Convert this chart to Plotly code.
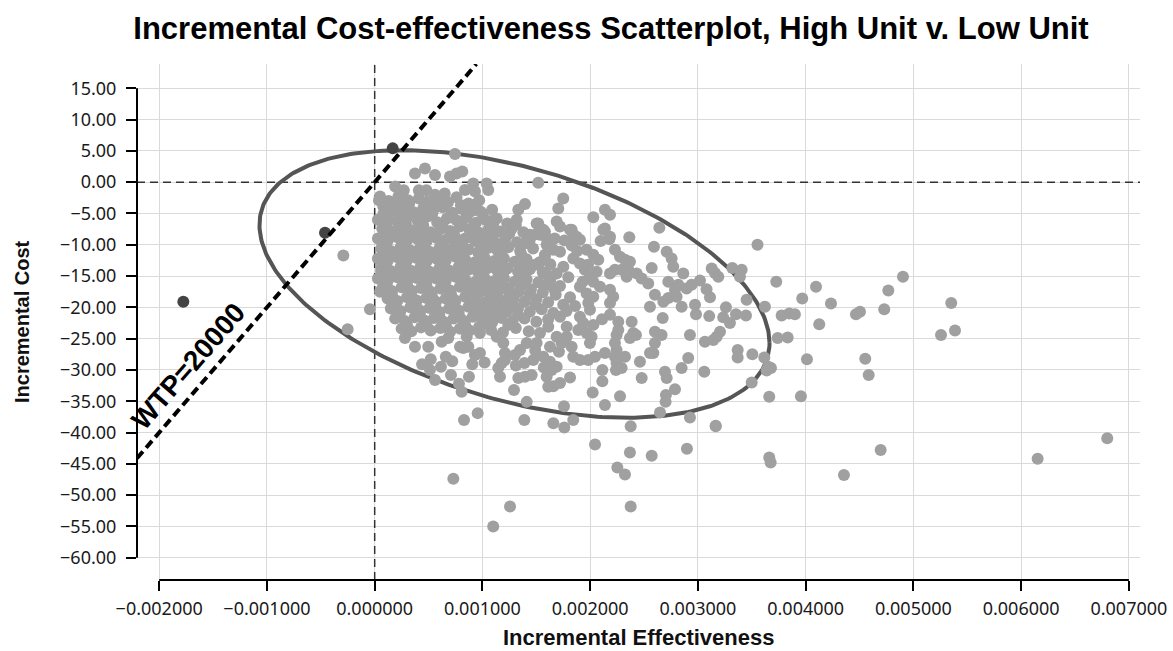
import numpy as np
import plotly.graph_objects as go

# ---------------- text ----------------
chart_title = "Incremental Cost-effectiveness Scatterplot, High Unit v. Low Unit"
x_title = "Incremental Effectiveness"
y_title = "Incremental Cost"
wtp_value = 20000
wtp_label = "WTP=20000"

# ---------------- axes ----------------
x_range = [-0.002206, 0.007103]
y_range = [-63.56, 18.88]
x_ticks = [-0.002, -0.001, 0.0, 0.001, 0.002, 0.003, 0.004, 0.005, 0.006, 0.007]
x_tick_labels = ["\u22120.002000", "\u22120.001000", "0.000000", "0.001000", "0.002000",
                 "0.003000", "0.004000", "0.005000", "0.006000", "0.007000"]
y_ticks = [15, 10, 5, 0, -5, -10, -15, -20, -25, -30, -35, -40, -45, -50, -55, -60]
y_tick_labels = ["15.00", "10.00", "5.00", "0.00", "\u22125.00", "\u221210.00", "\u221215.00",
                 "\u221220.00", "\u221225.00", "\u221230.00", "\u221235.00", "\u221240.00",
                 "\u221245.00", "\u221250.00", "\u221255.00", "\u221260.00"]

# ---------------- data: simulated (effect, cost) pairs ----------------
# dense core of the cloud, read row by row
core_points = [
    (0.00019, -0.7), (0.00027, -1.3), (0.00041, -1.3), (0.00048, -1.3), (0.00065, -1.8),
    (0.00005, -2.3), (0.00022, -2.3), (0.00056, -2.0),
    (0.00004, -2.9), (0.00013, -3.0), (0.00031, -2.9), (0.00041, -2.6), (0.00049, -3.1),
    (0.00057, -2.7), (0.00068, -3.2), (0.00076, -2.4), (0.00087, -3.4), (0.00097, -2.9),
    (0.00008, -3.9), (0.00017, -4.6), (0.00027, -4.1), (0.00036, -4.8), (0.00045, -4.2),
    (0.00054, -4.7), (0.00063, -4.0), (0.00072, -4.9), (0.00081, -4.3), (0.00090, -4.6),
    (0.00098, -4.7), (0.00109, -4.4),
    (0.00003, -6.0), (0.00012, -5.6), (0.00021, -6.3), (0.00030, -5.7), (0.00040, -6.2),
    (0.00049, -5.5), (0.00058, -6.4), (0.00067, -5.8), (0.00076, -6.1), (0.00085, -5.6),
    (0.00094, -6.5), (0.00103, -6.0), (0.00112, -5.8), (0.00123, -6.6),
    (0.00007, -7.4), (0.00016, -7.9), (0.00025, -7.2), (0.00034, -7.7), (0.00043, -7.3),
    (0.00052, -8.0), (0.00061, -7.5), (0.00070, -7.8), (0.00079, -7.1), (0.00088, -7.6),
    (0.00097, -8.1), (0.00106, -7.4), (0.00116, -7.9), (0.00127, -7.5), (0.00138, -8.0),
    (0.00003, -9.0), (0.00012, -9.4), (0.00021, -8.8), (0.00030, -9.3), (0.00039, -9.0),
    (0.00048, -9.5), (0.00057, -8.9), (0.00066, -9.2), (0.00075, -9.6), (0.00084, -9.0),
    (0.00093, -9.4), (0.00102, -8.9), (0.00111, -9.5), (0.00121, -9.1), (0.00132, -9.6),
    (0.00144, -9.2),
    (0.00006, -10.6), (0.00015, -11.0), (0.00024, -10.4), (0.00033, -10.9), (0.00042, -10.5),
    (0.00051, -11.1), (0.00060, -10.6), (0.00069, -10.9), (0.00078, -10.3), (0.00087, -10.8),
    (0.00096, -11.2), (0.00105, -10.5), (0.00114, -10.9), (0.00124, -10.4), (0.00135, -11.0),
    (0.00147, -10.6),
    (0.00003, -12.2), (0.00012, -12.6), (0.00021, -12.0), (0.00030, -12.5), (0.00039, -12.1),
    (0.00048, -12.7), (0.00057, -12.2), (0.00066, -12.5), (0.00075, -11.9), (0.00084, -12.4),
    (0.00093, -12.8), (0.00102, -12.1), (0.00111, -12.6), (0.00120, -12.2), (0.00130, -12.7),
    (0.00141, -12.3), (0.00153, -12.8),
    (0.00006, -13.8), (0.00015, -14.2), (0.00024, -13.6), (0.00033, -14.1), (0.00042, -13.7),
    (0.00051, -14.3), (0.00060, -13.8), (0.00069, -14.1), (0.00078, -13.5), (0.00087, -14.0),
    (0.00096, -14.4), (0.00105, -13.7), (0.00114, -14.2), (0.00123, -13.8), (0.00133, -14.3),
    (0.00144, -13.9), (0.00156, -14.4),
    (0.00003, -15.4), (0.00012, -15.8), (0.00021, -15.2), (0.00030, -15.7), (0.00039, -15.3),
    (0.00048, -15.9), (0.00057, -15.4), (0.00066, -15.7), (0.00075, -15.1), (0.00084, -15.6),
    (0.00093, -16.0), (0.00102, -15.3), (0.00111, -15.8), (0.00120, -15.4), (0.00130, -15.9),
    (0.00141, -15.5), (0.00152, -16.0), (0.00163, -15.6),
    (0.00007, -17.0), (0.00016, -17.4), (0.00025, -16.8), (0.00034, -17.3), (0.00043, -16.9),
    (0.00052, -17.5), (0.00061, -17.0), (0.00070, -17.3), (0.00079, -16.7), (0.00088, -17.2),
    (0.00097, -17.6), (0.00106, -16.9), (0.00115, -17.4), (0.00124, -17.0), (0.00134, -17.5),
    (0.00145, -17.1), (0.00156, -17.6), (0.00167, -17.2),
    (0.00012, -18.6), (0.00021, -19.0), (0.00030, -18.4), (0.00039, -18.9), (0.00048, -18.5),
    (0.00057, -19.1), (0.00066, -18.6), (0.00075, -18.9), (0.00084, -18.3), (0.00093, -18.8),
    (0.00102, -19.2), (0.00111, -18.5), (0.00120, -19.0), (0.00129, -18.6), (0.00139, -19.1),
    (0.00150, -18.7), (0.00161, -19.2),
    (0.00015, -20.2), (0.00024, -20.6), (0.00033, -20.0), (0.00042, -20.5), (0.00051, -20.1),
    (0.00060, -20.7), (0.00069, -20.2), (0.00078, -20.5), (0.00087, -19.9), (0.00096, -20.4),
    (0.00105, -20.8), (0.00114, -20.1), (0.00123, -20.6), (0.00133, -20.2), (0.00144, -20.7),
    (0.00155, -20.3),
    (0.00019, -21.8), (0.00028, -22.2), (0.00037, -21.6), (0.00046, -22.1), (0.00055, -21.7),
    (0.00064, -22.3), (0.00073, -21.8), (0.00082, -22.1), (0.00091, -21.5), (0.00100, -22.0),
    (0.00109, -22.4), (0.00118, -21.7), (0.00128, -22.2), (0.00139, -21.8), (0.00150, -22.3),
    (0.00025, -23.4), (0.00034, -23.8), (0.00043, -23.2), (0.00052, -23.7), (0.00061, -23.3),
    (0.00070, -23.9), (0.00079, -23.4), (0.00088, -23.7), (0.00097, -23.1), (0.00108, -23.6),
    (0.00119, -24.0), (0.00131, -23.3), (0.00143, -23.8),
]

# further points packed between the rows of the core, where the cloud looks solid
core_fill_points = [
    (0.00012, -3.5), (0.00022, -3.6), (0.00032, -3.4), (0.00052, -3.6), (0.00061, -3.5),
    (0.00080, -3.7), (0.00094, -3.5),
    (0.00008, -5.1), (0.00025, -5.2), (0.00039, -5.0), (0.00053, -5.3), (0.00071, -5.1),
    (0.00086, -5.2), (0.00100, -5.0),
    (0.00011, -6.8), (0.00029, -6.7), (0.00045, -6.9), (0.00063, -6.7), (0.00081, -6.8),
    (0.00092, -6.9), (0.00110, -6.7), (0.00131, -6.8),
    (0.00009, -8.3), (0.00026, -8.4), (0.00043, -8.2), (0.00057, -8.3), (0.00074, -8.5),
    (0.00092, -8.3), (0.00109, -8.4), (0.00125, -8.2), (0.00150, -8.3),
    (0.00008, -9.9), (0.00027, -10.0), (0.00044, -9.8), (0.00062, -9.9), (0.00081, -10.1),
    (0.00098, -9.9), (0.00117, -10.0), (0.00139, -9.8),
    (0.00010, -11.6), (0.00028, -11.5), (0.00046, -11.7), (0.00063, -11.6), (0.00082, -11.4),
    (0.00099, -11.6), (0.00118, -11.7), (0.00136, -11.5), (0.00158, -11.6),
    (0.00007, -13.2), (0.00025, -13.1), (0.00044, -13.3), (0.00062, -13.2), (0.00080, -13.0),
    (0.00098, -13.2), (0.00117, -13.3), (0.00136, -13.1), (0.00149, -13.2),
    (0.00010, -14.8), (0.00027, -14.7), (0.00046, -14.9), (0.00064, -14.8), (0.00082, -14.6),
    (0.00100, -14.8), (0.00119, -14.9), (0.00137, -14.7), (0.00160, -14.8),
    (0.00011, -16.4), (0.00030, -16.3), (0.00048, -16.5), (0.00065, -16.4), (0.00084, -16.2),
    (0.00102, -16.4), (0.00119, -16.5), (0.00138, -16.3), (0.00161, -16.4),
    (0.00016, -18.0), (0.00034, -17.9), (0.00053, -18.1), (0.00071, -18.0), (0.00089, -17.8),
    (0.00107, -18.0), (0.00125, -18.1), (0.00144, -17.9),
    (0.00019, -19.6), (0.00038, -19.5), (0.00056, -19.7), (0.00074, -19.6), (0.00092, -19.4),
    (0.00110, -19.6), (0.00128, -19.7), (0.00149, -19.5),
    (0.00023, -21.1), (0.00042, -21.0), (0.00060, -21.2), (0.00078, -21.1), (0.00096, -20.9),
    (0.00114, -21.1), (0.00133, -21.2),
    (0.00030, -22.8), (0.00048, -22.7), (0.00066, -22.9), (0.00084, -22.8), (0.00103, -22.6),
    (0.00124, -22.8),
]

# points spread around the core (upper part, middle band, lower band)
spread_points = [
    (0.000745, 4.5), (0.000374, 1.4), (0.000467, 2.2), (0.00056, 1.15), (0.000699, 0.9),
    (0.00076, 1.4), (0.000813, 1.7), (0.000838, -1.25), (0.000915, -0.2), (0.000931, -1.5),
    (0.001039, -0.2), (0.001054, -1.25),
    (0.001518, -0.1), (0.00175, -2.6), (0.001704, -4.2), (0.001395, -3.5), (0.001333, -4.4),
    (0.001318, -6.0), (0.001132, -5.8), (0.002029, -5.6), (0.002137, -4.4), (0.002184, -5.2),
    (0.002137, -7.4), (0.002184, -8.7), (0.001518, -6.6), (0.00158, -7.9), (0.001689, -6.3),
    (0.00172, -7.1), (0.001813, -7.6), (0.001843, -8.4), (0.001441, -8.4),
    (0.001503, -6.6), (0.001565, -7.6), (0.001534, -8.4),
    (0.002642, -7.3), (0.002122, -7.6), (0.002178, -9.1), (0.002097, -9.4), (0.002363, -8.8),
    (0.002592, -10.3), (0.00271, -11.1), (0.002756, -12.2), (0.002771, -13.5),
    (0.00223, -10.8), (0.002277, -11.9), (0.002323, -12.4), (0.002369, -12.7),
    (0.00223, -14.0), (0.002292, -14.0), (0.002354, -14.0),
    (0.002432, -14.6), (0.002478, -15.4), (0.002539, -16.2), (0.002571, -13.7),
    (0.002725, -15.9), (0.002818, -16.4), (0.002864, -14.6), (0.002895, -17.0),
    (0.002942, -16.4), (0.003019, -15.7), (0.002787, -17.2),
    (0.002601, -18.0), (0.002679, -19.1), (0.002725, -18.5), (0.002802, -18.3),
    (0.002555, -19.9), (0.002849, -19.9), (0.002973, -19.6), (0.002982, -21.1),
    (0.002673, -21.7), (0.002261, -22.3), (0.002385, -22.3), (0.002601, -23.9),
    (0.002663, -24.4), (0.0024, -24.1), (0.002369, -24.9), (0.002425, -24.4),
    (0.002601, -25.7), (0.002586, -27.3), (0.002926, -24.4),
    (0.002323, -27.9), (0.002462, -28.7), (0.002555, -27.3),
    (0.00291, -28.1), (0.002849, -29.7), (0.002694, -30.3), (0.00271, -31.3), (0.002478, -31.3),
    (0.002245, -28.9), (0.002239, -30.0),
    (0.001828, -7.6), (0.001874, -8.7), (0.001905, -9.2),
    (0.001596, -10.0), (0.001658, -10.8), (0.00172, -11.1),
    (0.001843, -12.2), (0.001905, -13.0),
    (0.001967, -10.8), (0.002029, -11.6), (0.002075, -12.4),
    (0.001951, -14.0), (0.001998, -15.1), (0.002029, -15.9),
    (0.002184, -14.6), (0.002339, -15.1),
    (0.002091, -16.7), (0.002184, -17.2), (0.002214, -18.3), (0.002184, -19.3),
    (0.001905, -16.7), (0.001967, -17.8), (0.002029, -18.3), (0.001982, -19.3), (0.001998, -20.4),
    (0.001751, -13.5), (0.001797, -15.2), (0.00172, -16.6), (0.001813, -18.4), (0.00175, -19.6),
    (0.001689, -14.6),
    (0.00158, -11.8), (0.00163, -13.1), (0.00168, -18.0), (0.00161, -21.9), (0.00178, -20.6),
    (0.00186, -19.8), (0.00193, -15.9), (0.00188, -11.0), (0.00183, -10.1), (0.00176, -9.3),
    (0.00167, -9.0), (0.00159, -8.8), (0.00198, -13.2), (0.00206, -14.3), (0.00211, -21.9),
    (0.00203, -22.8), (0.00171, -27.1), (0.00157, -29.6), (0.00149, -26.9), (0.00139, -28.9),
    (0.00131, -29.3), (0.00102, -28.8), (0.00093, -27.6), (0.00066, -27.9), (0.00052, -28.3),
    (0.00044, -29.1),
    (0.002184, -21.2), (0.002261, -23.6), (0.002245, -24.4), (0.00223, -25.7),
    (0.002245, -26.8), (0.00223, -27.9),
    (0.001905, -21.5), (0.001936, -22.5), (0.00189, -23.6), (0.001967, -24.1), (0.002013, -24.7),
    (0.001998, -25.7),
    (0.001782, -23.1), (0.001782, -24.7), (0.001828, -26.3), (0.001735, -25.7),
    (0.001843, -27.9), (0.001905, -28.4), (0.001982, -28.4), (0.002045, -27.9),
    (0.001658, -20.9), (0.00172, -21.5), (0.001611, -23.1), (0.001689, -24.7), (0.001627, -26.3),
    (0.001534, -24.1), (0.001503, -25.7), (0.001565, -27.9), (0.001472, -28.4),
    (0.001411, -25.7), (0.001349, -26.8),
    (0.000281, -24.9), (0.000374, -26.3), (0.000497, -26.3), (0.000622, -25.5), (0.000683, -24.9),
    (0.000792, -26.3), (0.000854, -24.7), (0.000977, -24.1), (0.001132, -24.7), (0.001194, -25.7),
    (0.000513, -30.0), (0.00056, -31.6), (0.000615, -29.5), (0.00072, -28.6), (0.000708, -30.8),
    (0.000782, -32.2), (0.000807, -33.5), (0.000875, -31.1), (0.000906, -29.1), (0.000822, -26.5),
    (0.000869, -26.3), (0.000977, -27.3),
    (0.001147, -29.7), (0.001179, -28.9), (0.001209, -28.4), (0.001163, -31.1), (0.001333, -31.3),
    (0.001395, -31.1), (0.001457, -30.8), (0.001293, -33.2), (0.001411, -35.1), (0.001596, -31.1),
    (0.001611, -32.7), (0.001658, -32.6), (0.00172, -32.1), (0.001813, -31.2), (0.001757, -35.8),
    (0.001389, -38.0), (0.001658, -38.5), (0.00176, -39.2), (0.001843, -38.0), (0.000956, -36.9),
    (0.000829, -38.0),
    (0.002023, -33.6), (0.002113, -31.8), (0.002113, -30.0), (0.002137, -35.6), (0.002277, -34.2),
    (0.002137, -27.3), (0.002292, -29.7),
    (0.001627, -28.7), (0.001689, -29.5), (0.001643, -30.0), (0.001209, -27.3), (0.001302, -27.6),
    (0.002376, -39.0), (0.002045, -41.9), (0.002369, -43.2), (0.002571, -43.7), (0.002252, -45.6),
    (0.002323, -46.7), (0.002376, -51.8), (0.00073, -47.4), (0.001256, -51.8), (0.0011, -55.0),
    (0.002703, -34.0), (0.0027, -35.1), (0.002787, -33.1), (0.002648, -36.8), (0.002926, -37.6),
    (0.002898, -42.6), (0.003165, -38.9),
    (0.00006, -14.3), (0.0001, -15.9), (0.00005, -17.5), (0.00013, -17.8),
    (-0.000291, -11.7), (-0.000251, -23.5), (-0.000044, -20.3),
]

# long right-hand tail of the cloud
tail_points = [
    (0.003553, -10.0), (0.003319, -13.7), (0.003406, -14.0), (0.003128, -13.8), (0.003158, -14.5),
    (0.003189, -15.1), (0.00339, -15.1), (0.00308, -17.1), (0.003112, -18.4), (0.003727, -15.9),
    (0.004096, -16.7), (0.004903, -15.1), (0.004767, -17.3), (0.004729, -20.3), (0.004467, -21.1),
    (0.004504, -20.7), (0.003968, -18.6), (0.004235, -19.4), (0.003622, -19.9), (0.003452, -18.8),
    (0.00326, -20.0), (0.003353, -21.1), (0.003446, -21.3), (0.003235, -21.6), (0.003297, -22.5),
    (0.003105, -21.4), (0.003777, -21.3), (0.003848, -21.0), (0.0039, -21.1), (0.004126, -22.7),
    (0.003205, -23.9), (0.003174, -24.7), (0.003065, -25.5), (0.003143, -25.2), (0.00374, -24.9),
    (0.003833, -24.8), (0.005351, -19.3), (0.005256, -24.4), (0.005386, -23.7), (0.003369, -26.8),
    (0.003369, -28.0), (0.003505, -27.5), (0.003616, -28.0), (0.004012, -28.3), (0.004553, -28.2),
    (0.004585, -30.8), (0.003653, -29.5), (0.003678, -29.7), (0.003638, -30.1), (0.003059, -30.3),
    (0.003499, -32.0), (0.003662, -34.3), (0.003956, -34.2), (0.003165, -39.0), (0.003662, -44.0),
    (0.003675, -44.8), (0.004355, -46.8), (0.004696, -42.8), (0.006153, -44.2), (0.006799, -40.9),
]

# points above the WTP threshold line (drawn darker)
above_wtp_points = [(0.000167, 5.4), (-0.000461, -8.07), (-0.001776, -19.09)]

# 95% confidence ellipse
ellipse_center = (0.0012975, -16.26)
ellipse_half_width = 0.002367
ellipse_half_height = 21.37
ellipse_corr = -0.441

# ---------------- colours ----------------
point_color = "#a0a0a0"
dark_point_color = "#444444"
ellipse_color = "#555555"
grid_color = "#dadada"

# ---------------- build ----------------
below_pts = core_points + core_fill_points + spread_points + tail_points
bx = [p[0] for p in below_pts]
by = [p[1] for p in below_pts]
ax_ = [p[0] for p in above_wtp_points]
ay_ = [p[1] for p in above_wtp_points]

t = np.linspace(0, 2 * np.pi, 361)
ex = ellipse_center[0] + ellipse_half_width * np.cos(t)
ey = ellipse_center[1] + ellipse_half_height * (
    ellipse_corr * np.cos(t) + np.sqrt(1 - ellipse_corr ** 2) * np.sin(t))

fig = go.Figure()
# reference lines at zero
fig.add_trace(go.Scatter(x=[0, 0], y=y_range, mode="lines",
                         line=dict(color="#333333", width=1.5, dash="8px,5px"),
                         hoverinfo="skip"))
fig.add_trace(go.Scatter(x=x_range, y=[0, 0], mode="lines",
                         line=dict(color="#333333", width=1.5, dash="8px,5px"),
                         hoverinfo="skip"))
# ellipse
fig.add_trace(go.Scatter(x=ex, y=ey, mode="lines",
                         line=dict(color=ellipse_color, width=4), hoverinfo="skip"))
# points
fig.add_trace(go.Scatter(x=bx, y=by, mode="markers",
                         marker=dict(color=point_color, size=12, line=dict(width=0))))
fig.add_trace(go.Scatter(x=ax_, y=ay_, mode="markers",
                         marker=dict(color=dark_point_color, size=12, line=dict(width=0))))
# WTP threshold line
wx = [x_range[0], y_range[1] / wtp_value]
wy = [wtp_value * v for v in wx]
fig.add_trace(go.Scatter(x=wx, y=wy, mode="lines",
                         line=dict(color="black", width=4, dash="9px,5px"), hoverinfo="skip"))

fig_w, fig_h = 1173, 651
tick_font = dict(family="Noto Sans", size=18, color="#1a1a1a")
fig.update_layout(
    width=fig_w, height=fig_h,
    margin=dict(l=137, r=33, t=64, b=71, autoexpand=False),
    paper_bgcolor="white", plot_bgcolor="white",
    showlegend=False,
    title=dict(text="<b>" + chart_title + "</b>", x=611 / fig_w, xanchor="center",
               y=1 - 28 / fig_h, yanchor="middle",
               font=dict(family="Liberation Sans", size=31, color="black")),
    xaxis=dict(range=x_range, tickvals=x_ticks, ticktext=x_tick_labels,
               showgrid=True, gridcolor=grid_color, gridwidth=1, zeroline=False,
               showline=False, ticks="outside", ticklen=10, tickwidth=2, tickcolor="black",
               tickfont=tick_font, ticklabelstandoff=2, automargin=False,
               ticklabeloverflow="allow"),
    yaxis=dict(range=y_range, tickvals=y_ticks, ticktext=y_tick_labels,
               showgrid=True, gridcolor=grid_color, gridwidth=1, zeroline=False,
               showline=False, ticks="outside", ticklen=10, tickwidth=2, tickcolor="black",
               tickfont=tick_font, ticklabelstandoff=6, automargin=False),
    shapes=[
        dict(type="line", xref="paper", x0=0, x1=0, yref="y", y0=y_ticks[-1], y1=y_ticks[0],
             line=dict(color="black", width=2), layer="above"),
        dict(type="line", xref="x", x0=x_ticks[0], x1=x_ticks[-1], yref="paper", y0=0, y1=0,
             line=dict(color="black", width=2), layer="above"),
    ],
    annotations=[
        dict(text="<b>" + x_title + "</b>", xref="paper", yref="paper", x=0.5, y=0,
             yshift=-57, xanchor="center", yanchor="middle", showarrow=False,
             font=dict(family="Liberation Sans", size=22, color="#111111")),
        dict(text="<b>" + y_title + "</b>", xref="paper", yref="paper", x=0, y=0.5,
             xshift=-115, xanchor="center", yanchor="middle", textangle=-90, showarrow=False,
             font=dict(family="Liberation Sans", size=20, color="#111111")),
        dict(text="<b>" + wtp_label + "</b>", xref="x", yref="y", x=-0.001733, y=-29.4,
             textangle=-49, showarrow=False, xanchor="center", yanchor="middle",
             font=dict(family="Liberation Sans", size=28, color="black")),
    ],
)

# remove the default 8px page margin so the figure fills the window exactly
fig.write_html("out.html", config={"displayModeBar": False},
               post_script="document.body.style.margin='0';document.body.style.overflow='hidden';")
